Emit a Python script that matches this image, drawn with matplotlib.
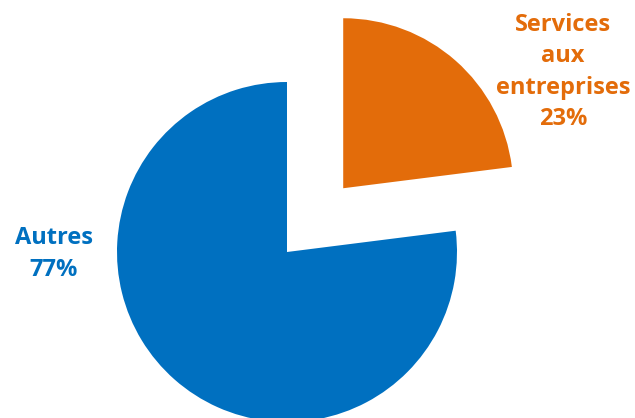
import matplotlib.pyplot as plt

labels = ["Services\naux\nentreprises", "Autres"]
values = [23, 77]
colors = ["#E36C0A", "#0070C0"]

W, H = 635, 418
cx, cy, r = 287, 252, 170   # pie centre and radius in pixels

fig = plt.figure(figsize=(W / 100, H / 100), dpi=100)
ax = fig.add_axes([0, 0, 1, 1])

ax.pie(values, colors=colors, startangle=90, counterclock=False,
       radius=1, explode=[0.5, 0], wedgeprops=dict(linewidth=0))

# unit radius -> 170 px
ax.set_xlim(-cx / r, (W - cx) / r)
ax.set_ylim(-(H - cy) / r, cy / r)
ax.set_aspect("equal")
ax.axis("off")

def px(x, y):
    return (x - cx) / r, (cy - y) / r

font = ["Open Sans", "DejaVu Sans"]
ax.text(*px(563, 72), f"{labels[0]}\n{values[0]}%", color=colors[0], ha="center",
        va="center", fontsize=17, fontweight="bold", family=font, linespacing=1.42)
ax.text(*px(54, 254), f"{labels[1]}\n{values[1]}%", color=colors[1], ha="center",
        va="center", fontsize=17, fontweight="bold", family=font, linespacing=1.42)

fig.savefig("out.png", dpi=100)
